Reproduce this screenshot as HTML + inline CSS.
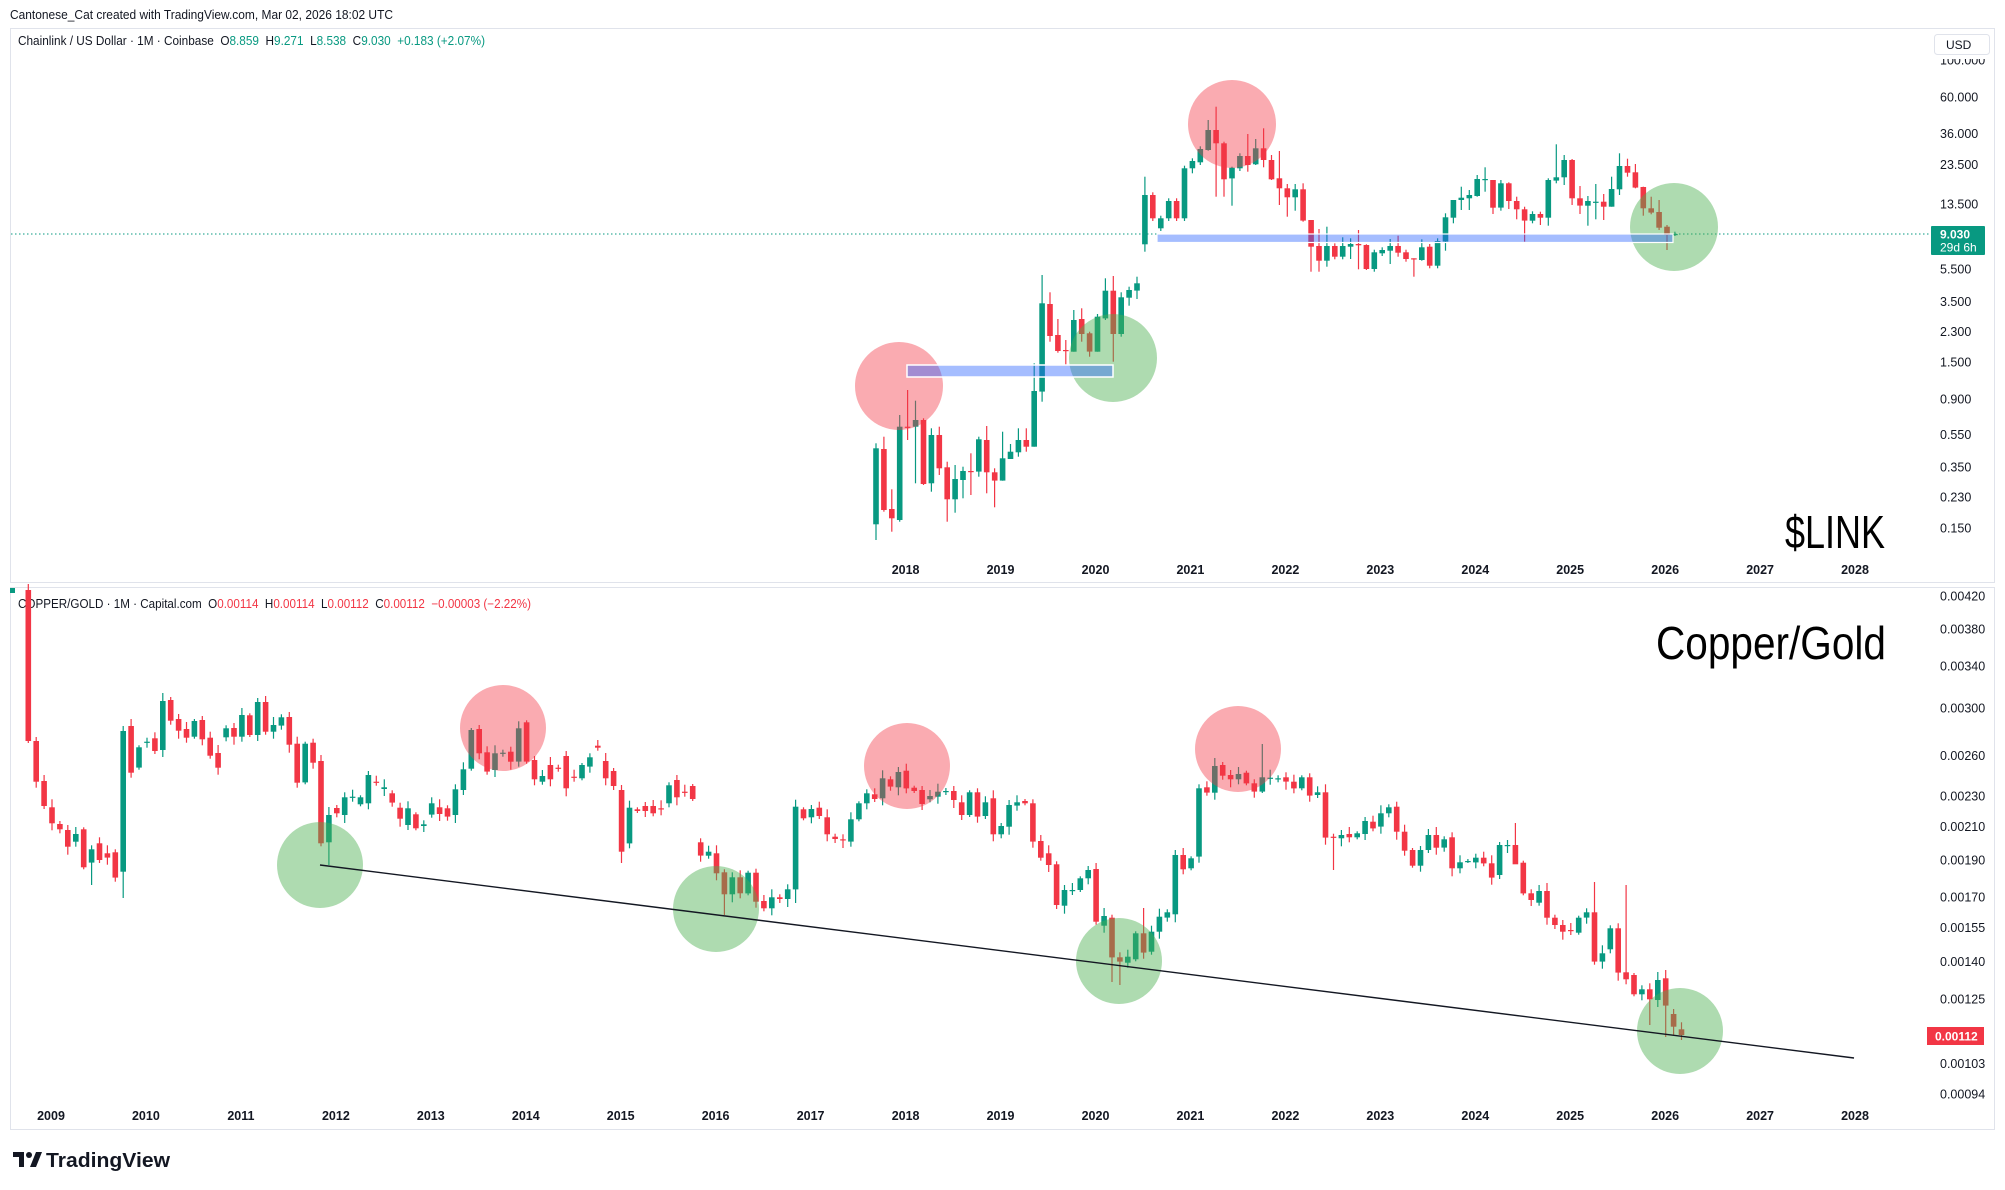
<!DOCTYPE html>
<html><head><meta charset="utf-8">
<style>
html,body{margin:0;padding:0;background:#fff;}
body{width:2005px;height:1190px;overflow:hidden;}
svg{display:block;font-family:"Liberation Sans","DejaVu Sans",sans-serif;}
</style></head>
<body>
<div id="c"></div>
<script>
(function(){
var GR='#089981',RD='#f23645';
var s=[];
function ap(x){s.push(x);}
var N='\u00a0\u00a0';
ap('<svg xmlns="http://www.w3.org/2000/svg" width="2005" height="1190" viewBox="0 0 2005 1190">');
ap('<rect x="0" y="0" width="2005" height="1190" fill="#fff"/>');
ap('<rect x="10.5" y="28.5" width="1984" height="554" fill="#fff" stroke="#e0e3eb"/>');
ap('<rect x="10.5" y="587.5" width="1984" height="542" fill="#fff" stroke="#e0e3eb"/>');
ap('<text x="10" y="19" font-size="13" fill="#131722" textLength="383" lengthAdjust="spacingAndGlyphs">Cantonese_Cat created with TradingView.com, Mar 02, 2026 18:02 UTC</text>');
ap('<text x="18" y="45" font-size="12.5" fill="#131722" textLength="467" lengthAdjust="spacingAndGlyphs">Chainlink / US Dollar · 1M · Coinbase'+N+'O<tspan fill="'+GR+'">8.859</tspan>'+N+'H<tspan fill="'+GR+'">9.271</tspan>'+N+'L<tspan fill="'+GR+'">8.538</tspan>'+N+'C<tspan fill="'+GR+'">9.030</tspan>'+N+'<tspan fill="'+GR+'">+0.183 (+2.07%)</tspan></text>');
ap('<text x="18" y="608" font-size="12.5" fill="#131722" textLength="513" lengthAdjust="spacingAndGlyphs">COPPER/GOLD · 1M · Capital.com'+N+'O<tspan fill="'+RD+'">0.00114</tspan>'+N+'H<tspan fill="'+RD+'">0.00114</tspan>'+N+'L<tspan fill="'+RD+'">0.00112</tspan>'+N+'C<tspan fill="'+RD+'">0.00112</tspan>'+N+'<tspan fill="'+RD+'">−0.00003 (−2.22%)</tspan></text>');
ap('<rect x="10" y="588" width="5" height="5" fill="'+GR+'"/>');

function yt(p){return 97+(4.094-Math.log(p))*71.9;}
function yb(p){return 596+(-5.473-Math.log(p))*332.7;}
var tl=['100.000','60.000','36.000','23.500','13.500','5.500','3.500','2.300','1.500','0.900','0.550','0.350','0.230','0.150'];
tl.forEach(function(t){var y=yt(parseFloat(t));ap('<text x="1940" y="'+(y+4.5).toFixed(1)+'" font-size="12.5" fill="#131722">'+t+'</text>');});
var bl=['0.00420','0.00380','0.00340','0.00300','0.00260','0.00230','0.00210','0.00190','0.00170','0.00155','0.00140','0.00125','0.00103','0.00094'];
bl.forEach(function(t){var y=yb(parseFloat(t));ap('<text x="1940" y="'+(y+4.5).toFixed(1)+'" font-size="12.5" fill="#131722">'+t+'</text>');});
ap('<rect x="1931" y="29" width="63" height="30" fill="#fff"/>');
ap('<rect x="1934.5" y="34.5" width="55" height="20" rx="3" fill="#fff" stroke="#e0e3eb"/>');
ap('<text x="1946" y="49" font-size="12" fill="#131722">USD</text>');
function xy(yr){return 51+(yr-2009)*94.95;}
for(var yr=2018;yr<=2028;yr++){ap('<text x="'+xy(yr).toFixed(1)+'" y="574" font-size="12.5" font-weight="bold" fill="#131722" text-anchor="middle">'+yr+'</text>');}
for(var yr=2009;yr<=2028;yr++){ap('<text x="'+xy(yr).toFixed(1)+'" y="1120" font-size="12.5" font-weight="bold" fill="#131722" text-anchor="middle">'+yr+'</text>');}

ap('<text x="1785" y="548" font-size="46" fill="#000" textLength="100" lengthAdjust="spacingAndGlyphs">$LINK</text>');
ap('<text x="1656" y="659" font-size="46" fill="#000" textLength="230" lengthAdjust="spacingAndGlyphs">Copper/Gold</text>');

function parse(str){return str.split(',').map(function(e){e=e.trim();var c=e[0];var p=e.slice(1).split('-').map(Number);if(p.length==1)p=[p[0],p[0]];return [c,p[0],p[1]];});}
function candle(x,top,bot,hi,lo,c){
  var col=c=='G'?GR:RD;
  ap('<line x1="'+x.toFixed(1)+'" y1="'+hi.toFixed(1)+'" x2="'+x.toFixed(1)+'" y2="'+lo.toFixed(1)+'" stroke="'+col+'" stroke-width="1.2"/>');
  var h=Math.max(bot-top,1.2);
  ap('<rect x="'+(x-2.8).toFixed(1)+'" y="'+top.toFixed(1)+'" width="5.6" height="'+h.toFixed(1)+'" fill="'+col+'"/>');
}
var A=parse('R30-483,R483-605,R603-678,R682-730,R732-748,R750-800,G762-785,R748-862,G808-848,R790-840,R820-833,R817-893,'+
'G453-875,R438-578,G502-563,X485,R475-513,G363-510,R360-422,R417-452,R447-473,G423-470,R420-478,R473-527,'+
'R519-563,G445-472,R444-470,G405-470,R406-465,G366-465,R366-455,G435-455,G412-437,R411-494,R491-608,G491-607,'+
'R488-548,R543-790,G705-787,R684-700,G652-705,X650,G652-673,G585-670,R605-608,G622-627,R640-668,R683-716,'+
'G685-735,R703-745,G733-738,G670-704,R682-702,R685-710,G628-705,G568-630,G450-566,R447-520,R517-575,G520-570');
var B=parse('X218,R215-245,G145-245,R127-245,R240-298,G288-305,R255-298,X263,R228-325,X290,G255-295,G232-260,'+
'R197-203,R243-295,R273-318,R330-515,G383-490,R388-393,R378-393,R378-400,X385,G316-370,R300-352,X335,'+
'R318-357,R487-527,G515-527,R520-580,R577-643,G592-643,R592-640,G578-640,R578-665,R663-685,G652-685,R652-657,'+
'G628-657,G380-628,R388-415,G387-412,R383-408,R412-463,R470-477,R478-480,G418-485,G370-418,G340-370,R343-357,'+
'G295-355,R298-320,G276-322,R272-325,R323-333,R330-372,G348-358,G335-350,X333,R333-360,R367-405,G337-405,'+
'R337-410,G367-408,R355-463,G438-463,G375-440,G367-377,R363-370,R370-485,R483-533,R520-555,R553-675,G630-677,'+
'X630,G595-630,G570-595,R567-725,G708-737,R713-832,R832-845,G830-848,G760-838,R760-818,G755-815,G710-755,'+
'G697-713,G525-703,R525-568,G535-565,G325-530,R322-338,G258-338,R255-287,R285-298,G282-298,R278-310,R310-335,'+
'G292-335,X293,X295,R292-305,R305-325,G292-325,R292-347,G337-345,R337-473,X470,G465-475,R462-472,'+
'G460-472,G423-462,R425-445,G400-440,G382-400,R380-455,R455-512,R510-557,G510-557,G465-510,R465-503,'+
'G478-503,R472-565,G547-565,X543,G533-547,R533-550,R550-593,G495-585,X495,R495-553,R548-640,R640-660,'+
'G633-668,R633-713,R713-735,R735-755,X750,G713-758,G697-713,R697-845,G820-845,G745-808,R745-878,R877-898,'+
'R885-943,G928-943,R928-958,G900-960,R895-977,R1002-1040,R1048-1065');
var bot=[];A.forEach(function(e){bot.push([e[0],580+e[1]/3,580+e[2]/3]);});
B.forEach(function(e){bot.push([e[0],680+e[1]/3,680+e[2]/3]);});
var ovB={0:[584,null],8:[null,885],12:[null,898],38:[null,865],72:[740,null],75:[null,863],88:[null,915],97:[null,903],137:[null,982],138:[null,985],141:[908,null],156:[744,793],165:[null,870],188:[823,850],198:[882,null],202:[885,null],205:[null,1025],207:[970,1037]};
var prevC=null;
bot.forEach(function(e,i){
  var x=28.3+7.91*i;var c=e[0];
  if(c=='X'){c=(prevC||'G');}
  var hi=e[1]-(2+(i*37)%7),lo=e[2]+(2+(i*53)%7);
  if(ovB[i]){if(ovB[i][0]!=null)hi=ovB[i][0];if(ovB[i][1]!=null)lo=ovB[i][1];}
  candle(x,e[1],e[2],hi,lo,c);prevC=c;
});
var L=[['G',1165,1393,1150,1440],['R',1167,1350,1130,1355],['R',1347,1375,1288,1415],['G',1100,1380,1065,1385],['R',1100,1100,990,1140],
['G',1080,1100,1022,1270],['R',1080,1272,1075,1275],['G',1125,1270,1105,1295],['R',1125,1225,1100,1245],['R',1222,1318,1205,1385],
['G',1257,1318,1215,1358],['G',1233,1260,1220,1315],['R',1233,1233,1180,1305],['G',1138,1235,1130,1250],['R',1140,1237,1098,1300],
['R',1237,1262,1225,1342],['G',1195,1262,1115,1262],['G',1175,1197,1152,1197],['G',1140,1177,1105,1190],['R',1140,1160,1105,1175],
['G',993,1160,910,1160],['G',730,995,645,1025],['R',732,828,697,845],['R',825,873,777,878],['R',870,870,840,915],
['G',780,875,750,875],['R',777,822,745,845],['R',820,875,815,890],['G',770,875,762,875],['G',692,775,655,780],
['R',692,822,648,905],['G',712,822,697,830],['G',690,713,680,737],['G',670,692,650,717]];
var Z5=parse('G552-670,G405-553,R405-475,G475-505,G423-475,R423-475,G325-475,G303-325,G267-307,G210-270,R210-250,R250-358,G323-355,G288-325,R288-315,G265-313,R265-300,R300-358,R355-385,R385-412,G388-412,R388-482,R480-560,R558-602,G558-602,R558-590,G558-590,G552-560,R552-556,R555-627,G577-627,G570-580,G558-572,R558-578,R577-597,R595-597,G562-600,R560-617,G543-617,G472-545,G420-473,G413-420,G405-415,G357-408,X357,R360-443,G370-443,R370-423,R423-448,R448-482,G462-482,R462-473,G360-473,G352-362,G300-352,R300-415,R415-437,G423-437,X425,R425-440,G387-440,G318-388,R318-338,R337-383,R381-445,R445-458,R456-503,R500-525,X522');
var wk={35:[350,575],41:[295,340],43:[180,272],44:[140,410],45:[245,410],46:[320,437],48:[222,335],49:[237,315],50:[205,322],51:[285,360],52:[273,435],53:[372,470],54:[372,452],55:[370,485],56:[480,635],57:[507,635],58:[500,620],60:[532,598],61:[535,597],62:[510,628],63:[553,630],66:[537,612],67:[527,590],69:[595,650],70:[538,602],73:[460,572],74:[420,490],75:[380,450],76:[390,450],77:[345,410],78:[322,395],79:[360,462],80:[360,452],81:[367,447],82:[410,478],83:[440,545],85:[455,495],86:[355,497],87:[253,370],88:[285,375],89:[297,435],90:[378,462],91:[408,497],92:[372,478],93:[402,480],94:[350,440],95:[280,405],96:[296,350],97:[312,385],98:[380,467],99:[410,463],100:[420,510],101:[495,570],102:[515,528]};
for(var k=1;k<Z5.length;k++){var e=Z5[k];var i=34+k;var w=wk[i]||[e[1]-8,e[2]+8];L.push([e[0]=='X'?'G':e[0],e[1],e[2],w[0],w[1]]);}
L.forEach(function(e,i){
  var x=876+7.91*i;
  candle(x,60+e[1]/3,60+e[2]/3,60+e[3]/3,60+e[4]/3,e[0]);
});
ap('<line x1="11" y1="234" x2="1931" y2="234" stroke="'+GR+'" stroke-width="1" stroke-dasharray="1.5,2.5"/>');
var RC='rgba(242,54,69,0.42)',GC='rgba(76,175,80,0.45)';
ap('<circle cx="899" cy="386" r="44" fill="'+RC+'"/>');
ap('<circle cx="1113" cy="358" r="44" fill="'+GC+'"/>');
ap('<circle cx="1232" cy="124" r="44" fill="'+RC+'"/>');
ap('<circle cx="1674" cy="227" r="44" fill="'+GC+'"/>');
ap('<rect x="907" y="365" width="206" height="12" fill="rgba(41,98,255,0.42)" stroke="#fff" stroke-width="1.5"/>');
ap('<rect x="1157" y="234" width="516" height="8.5" fill="rgba(41,98,255,0.42)" stroke="#fff" stroke-width="1.2"/>');
[[320,865,GC],[503,728,RC],[716,909,GC],[907,766,RC],[1119,961,GC],[1238,749,RC],[1680,1031,GC]].forEach(function(c){
 ap('<circle cx="'+c[0]+'" cy="'+c[1]+'" r="43" fill="'+c[2]+'"/>');});
ap('<line x1="320" y1="865" x2="1854" y2="1058" stroke="#131722" stroke-width="1.4"/>');
ap('<rect x="1931" y="226" width="54" height="29" rx="1" fill="'+GR+'"/>');
ap('<text x="1940" y="238.5" font-size="12" font-weight="bold" fill="#fff">9.030</text>');
ap('<text x="1940" y="251.5" font-size="12" fill="#fff">29d 6h</text>');
ap('<rect x="1927" y="1027" width="57" height="18" fill="'+RD+'"/>');
ap('<text x="1935" y="1040.5" font-size="12" font-weight="bold" fill="#fff">0.00112</text>');
ap('<g fill="#131722"><rect x="13" y="1152" width="11" height="5"/><rect x="19" y="1152" width="5" height="15"/><circle cx="29" cy="1155" r="3"/><path d="M30 1167 L36 1152 L42 1152 L36 1167 Z"/></g>');
ap('<text x="46" y="1167" font-size="20" font-weight="bold" fill="#131722" textLength="124" lengthAdjust="spacingAndGlyphs">TradingView</text>');
ap('</svg>');
document.getElementById('c').innerHTML=s.join('');
})();
</script>
</body></html>
